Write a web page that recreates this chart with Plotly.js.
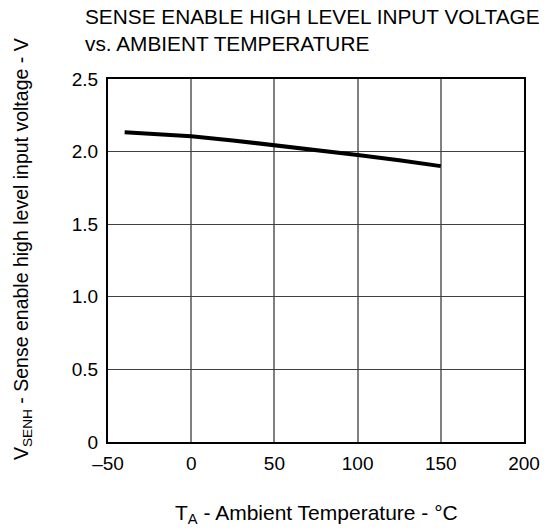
<!DOCTYPE html>
<html>
<head>
<meta charset="utf-8">
<script src="https://cdn.plot.ly/plotly-3.0.1.min.js"></script>
<style>html,body{margin:0;padding:0;background:#fff;}#chart{width:555px;height:531px;}</style>
</head>
<body>
<div id="chart"></div>
<script>
// Data
const temperature = [-40, -25, 0, 25, 50, 75, 100, 125, 150];
const vsenh = [2.133, 2.122, 2.105, 2.077, 2.045, 2.011, 1.977, 1.940, 1.900];

const xTickVals = [-50, 0, 50, 100, 150, 200];
const xTickText = ['\u201350', '0', '50', '100', '150', '200'];
const yTickVals = [0, 0.5, 1.0, 1.5, 2.0, 2.5];
const yTickText = ['0', '0.5', '1.0', '1.5', '2.0', '2.5'];

const chartTitle = 'SENSE ENABLE HIGH LEVEL INPUT VOLTAGE<br>vs. AMBIENT TEMPERATURE';
const xTitle = 'T<sub>A</sub> - Ambient Temperature - °C';
const yTitle = 'V<sub>SENH</sub> - Sense enable high level input voltage - V';

const FONT = 'Liberation Sans, Arial, Helvetica, sans-serif';

// plot-area geometry (px) used to convert annotation placement into paper units
const W = 555, H = 531, ML = 108, MR = 31, MT = 79, MB = 89;
const PW = W - ML - MR, PH = H - MT - MB;
const px2x = p => (p - ML) / PW;
const px2y = p => (H - MB - p) / PH;

const trace = {
  x: temperature,
  y: vsenh,
  type: 'scatter',
  mode: 'lines',
  line: {color: '#000000', width: 4},
  hoverinfo: 'skip'
};

const layout = {
  width: W,
  height: H,
  margin: {l: ML, r: MR, t: MT, b: MB, pad: 0},
  paper_bgcolor: '#ffffff',
  plot_bgcolor: '#ffffff',
  showlegend: false,
  font: {family: FONT, size: 19, color: '#000000'},
  xaxis: {
    range: [-50, 200],
    tickmode: 'array',
    tickvals: xTickVals,
    ticktext: xTickText,
    ticks: '',
    ticklabelstandoff: 3,
    showgrid: true,
    gridcolor: '#808080',
    gridwidth: 2,
    zeroline: false,
    showline: true,
    linecolor: '#000000',
    linewidth: 2,
    mirror: true,
    tickfont: {family: FONT, size: 19, color: '#000000'},
    fixedrange: true
  },
  yaxis: {
    range: [0, 2.5],
    tickmode: 'array',
    tickvals: yTickVals,
    ticktext: yTickText,
    ticks: '',
    ticklabelstandoff: 4,
    showgrid: true,
    gridcolor: '#404040',
    gridwidth: 1,
    zeroline: false,
    showline: true,
    linecolor: '#000000',
    linewidth: 2,
    mirror: true,
    tickfont: {family: FONT, size: 19, color: '#000000'},
    fixedrange: true
  },
  annotations: [
    {
      text: chartTitle,
      xref: 'paper', yref: 'paper',
      x: px2x(83), y: px2y(3),
      xanchor: 'left', yanchor: 'top',
      align: 'left',
      showarrow: false,
      font: {family: FONT, size: 20.8, color: '#000000'}
    },
    {
      text: xTitle,
      xref: 'paper', yref: 'paper',
      x: px2x(316), y: px2y(514),
      xanchor: 'center', yanchor: 'middle',
      showarrow: false,
      font: {family: FONT, size: 21, color: '#000000'}
    },
    {
      text: yTitle,
      xref: 'paper', yref: 'paper',
      x: px2x(23), y: px2y(249),
      xanchor: 'center', yanchor: 'middle',
      textangle: -90,
      showarrow: false,
      font: {family: FONT, size: 19.5, color: '#000000'}
    }
  ]
};

Plotly.newPlot('chart', [trace], layout, {displayModeBar: false, staticPlot: true});
</script>
</body>
</html>
